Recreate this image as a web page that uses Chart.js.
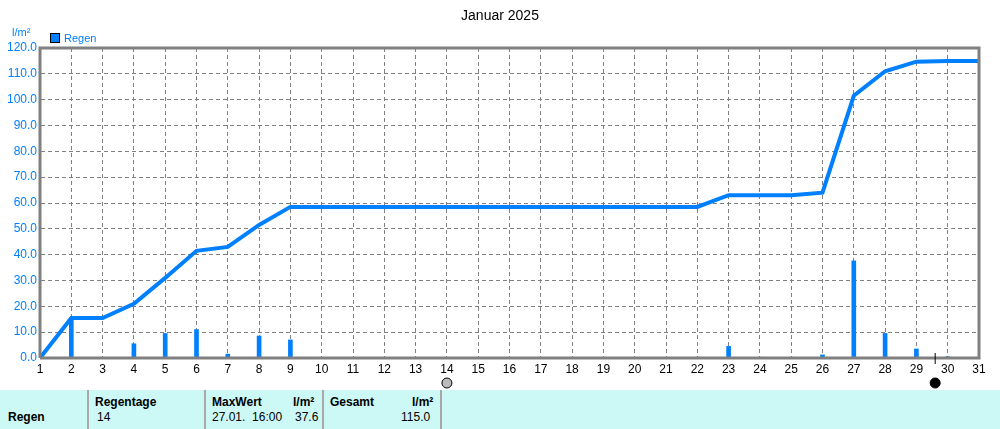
<!DOCTYPE html>
<html><head><meta charset="utf-8">
<script src="https://cdn.jsdelivr.net/npm/chart.js@4"></script>
<style>
body{margin:0;background:#fff;font-family:"Liberation Sans",Arial,sans-serif;}
#wrap{position:relative;width:1000px;height:390px;}
#tbl{position:absolute;left:0;top:390px;width:1000px;height:39px;background:#ccf8f6;font-size:12px;}
#tbl div{position:absolute;}
.sep{top:0;width:2px;height:39px;background:#a8a8a8;}
.b{font-weight:bold;}
</style></head><body>
<div id="wrap"><canvas id="c" width="1000" height="390"></canvas></div>
<div id="tbl">
<div class="sep" style="left:87px"></div><div class="sep" style="left:204px"></div>
<div class="sep" style="left:322px"></div><div class="sep" style="left:440px"></div>
<div class="b" style="left:8px;top:20px">Regen</div>
<div class="b" style="left:95px;top:5px">Regentage</div>
<div style="left:97px;top:20px">14</div>
<div class="b" style="left:212px;top:5px">MaxWert</div>
<div class="b" style="left:293px;top:5px">l/m²</div>
<div style="left:212px;top:20px">27.01.&nbsp; 16:00</div>
<div style="left:295px;top:20px">37.6</div>
<div class="b" style="left:330px;top:5px">Gesamt</div>
<div class="b" style="left:412px;top:5px">l/m²</div>
<div style="left:401px;top:20px">115.0</div>
</div>
<script>
const days=[1,2,3,4,5,6,7,8,9,10,11,12,13,14,15,16,17,18,19,20,21,22,23,24,25,26,27,28,29,30,31];
const rain=[0,15.5,0,5.5,9.5,11,1.5,8.5,7,0,0,0,0,0,0,0,0,0,0,0,0,0.3,4.5,0.3,0.3,1.2,37.6,9.5,3.5,0.5,0.3];
const total=[0,15.5,15.5,21,31,41.5,43,51.5,58.5,58.5,58.5,58.5,58.5,58.5,58.5,58.5,58.5,58.5,58.5,58.5,58.5,58.5,63,63,63,64,101.5,111,114.7,115,115];
const yTicks=[0,10,20,30,40,50,60,70,80,90,100,110,120];
const moon=[{x:14,full:false},{x:29.6,full:true}];
const blue='#0080ff';
const deco={id:'deco',afterDraw(ch){
 const c=ch.ctx,a=ch.chartArea,xs=ch.scales.x;
 c.save();
 c.fillStyle='#000';c.font='14px "Liberation Sans",Arial';c.textAlign='center';c.textBaseline='middle';
 c.fillText('Januar 2025',500,16);
 c.font='11px "Liberation Sans",Arial';c.fillStyle=blue;c.textAlign='left';
 c.fillText('l/m²',12,33);
 c.fillRect(50,33,10,10);c.strokeStyle='#000';c.lineWidth=1;c.strokeRect(50.5,33.5,9,9);
 c.fillText('Regen',64,38.5);
 c.strokeStyle='#808080';c.lineWidth=3;
 c.beginPath();c.moveTo(a.left,a.bottom);c.lineTo(a.left,a.top);c.lineTo(a.right,a.top);c.lineTo(a.right,a.bottom);c.lineTo(a.left,a.bottom);c.stroke();
 moon.forEach(m=>{const px=xs.getPixelForValue(m.x);
  c.beginPath();c.arc(px,383,5,0,Math.PI*2);c.fillStyle=m.full?'#000':'#bbb';c.fill();c.strokeStyle='#000';c.lineWidth=1;c.stroke();
  if(m.full){c.beginPath();c.moveTo(px,353);c.lineTo(px,364);c.stroke();}});
 c.restore();}};
new Chart(document.getElementById('c'),{
 data:{datasets:[
  {type:'line',data:days.map((d,i)=>({x:d,y:total[i]})),borderColor:blue,borderWidth:4,pointRadius:0,tension:0,order:1},
  {type:'bar',data:days.map((d,i)=>({x:d,y:rain[i]})),backgroundColor:blue,barThickness:4,order:2}
 ]},
 options:{responsive:false,animation:false,
  layout:{padding:{top:48,right:21,left:0,bottom:0}},
  plugins:{legend:{display:false},tooltip:{enabled:false}},
  scales:{
   x:{type:'linear',min:1,max:31,offset:false,afterFit(s){s.height=32;},
    afterBuildTicks(s){s.ticks=days.map(v=>({value:v}));},
    ticks:{color:'#000',font:{size:12,family:'"Liberation Sans",Arial'},maxRotation:0,autoSkip:false,padding:4},
    grid:{color:'#808080',drawTicks:false,lineWidth:1,offset:false},border:{dash:[4,3],color:'#808080'}},
   y:{min:0,max:120,afterFit(s){s.width=40;},
    afterBuildTicks(s){s.ticks=yTicks.map(v=>({value:v}));},
    ticks:{color:blue,font:{size:12,family:'"Liberation Sans",Arial'},padding:3,callback:v=>v.toFixed(1)},
    grid:{color:'#808080',drawTicks:false,lineWidth:1},border:{dash:[4,3],color:'#808080'}}
  }},
 plugins:[deco]});
</script></body></html>
